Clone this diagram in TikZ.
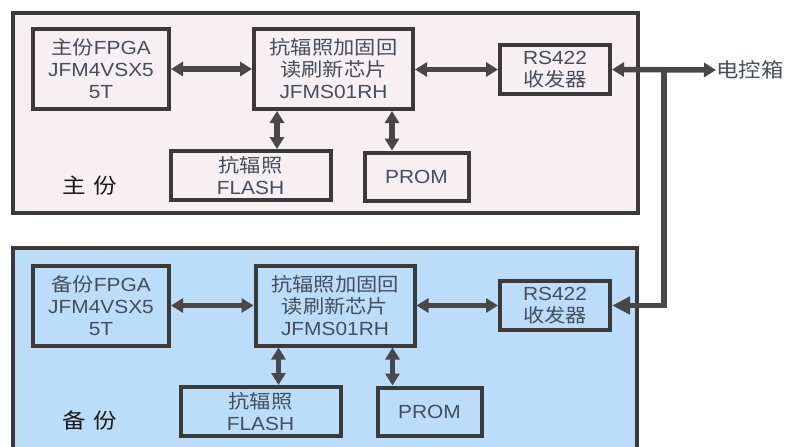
\documentclass[tikz,border=0pt]{standalone}
\usepackage{fontspec}
\setmainfont[FakeStretch=1.1]{Liberation Sans}
\newfontfamily\cjk[FakeStretch=1.12]{Noto Sans CJK SC}
\usetikzlibrary{arrows.meta, positioning}

\definecolor{edge}{RGB}{58,58,58}
\definecolor{wire}{RGB}{72,72,72}
\definecolor{ink}{RGB}{68,78,92}
\definecolor{mainbg}{RGB}{246,240,243}
\definecolor{backbg}{RGB}{187,221,250}

\begin{document}
\begin{tikzpicture}[
  x=1pt, y=-1pt,
  unit/.style={draw=edge, line width=4pt, align=center, inner sep=0pt, text=ink,
               font=\fontsize{19}{22}\selectfont},
  fpgabox/.style={unit, minimum width=136pt, minimum height=80pt},
  chipbox/.style={unit, minimum width=159pt, minimum height=80pt},
  rsbox/.style={unit, minimum width=110pt, minimum height=49pt},
  flashbox/.style={unit, minimum width=160pt, minimum height=49pt},
  prombox/.style={unit, minimum width=104pt, minimum height=48pt},
  panel/.style={draw=edge, line width=3.5pt},
  link/.style={{Triangle[length=12pt,width=14pt]}-{Triangle[length=12pt,width=14pt]},
               line width=5.5pt, draw=wire, fill=wire},
  bus/.style={line width=5.5pt, draw=wire},
  tag/.style={font=\fontsize{21}{24}\selectfont\cjk, text=black!90}
]
\useasboundingbox (0,0) rectangle (785,447);
\clip (0,0) rectangle (785,447);

% two copies: main (top) and backup (bottom)
\draw[panel, fill=mainbg] (13,13) rectangle (638,213);
\draw[panel, fill=backbg] (13,248) rectangle (637,470);

\node[fpgabox] (fpgaA) at (101,69) {{\cjk 主份}FPGA\\JFM4VSX5\\5T};
\node[chipbox] (chipA) at (333.5,69) {{\cjk 抗辐照加固回}\\{\cjk 读刷新芯片}\\JFMS01RH};
\node[rsbox] (rsA) at (555,69.5) {RS422\\{\cjk 收发器}};
\node[flashbox] (flashA) at (250.5,175.5) {{\cjk 抗辐照}\\FLASH};
\node[prombox] (promA) at (416.5,176.5) {PROM};
\node[tag] (tagA) at (90,186) {主\hspace{8pt}份};

\node[fpgabox] (fpgaB) at (101,305.5) {{\cjk 备份}FPGA\\JFM4VSX5\\5T};
\node[chipbox] (chipB) at (335,305.5) {{\cjk 抗辐照加固回}\\{\cjk 读刷新芯片}\\JFMS01RH};
\node[rsbox] (rsB) at (555,305.5) {RS422\\{\cjk 收发器}};
\node[flashbox] (flashB) at (260.5,411.5) {{\cjk 抗辐照}\\FLASH};
\node[prombox] (promB) at (429.5,411.5) {PROM};
\node[tag] (tagB) at (90,420) {备\hspace{8pt}份};

\node[anchor=west, inner sep=0pt, text=ink, font=\fontsize{20}{24}\selectfont\cjk] (ctrl) at (716,70) {电控箱};
\coordinate (tap) at (664,0);

\draw[link] (fpgaA.east) -- (chipA.west);
\draw[link] (chipA.east |- rsA.west) -- (rsA.west);
\draw[link] ([xshift=25pt]chipA.south west) -- ([xshift=25pt]chipA.south west |- flashA.north);
\draw[link] ([xshift=140pt]chipA.south west) -- ([xshift=140pt]chipA.south west |- promA.north);

\draw[link] (fpgaB.east) -- (chipB.west);
\draw[link] (chipB.east |- rsB.west) -- (rsB.west);
\draw[link] ([xshift=25pt]chipB.south west) -- ([xshift=25pt]chipB.south west |- flashB.north);
\draw[link] ([xshift=139pt]chipB.south west) -- ([xshift=139pt]chipB.south west |- promB.north);

\draw[link] (rsA.east) -- (ctrl.west);
\draw[bus, -{Triangle[length=18pt,width=17pt]}] (rsA.east -| tap) |- (rsB.east);

\end{tikzpicture}
\end{document}
